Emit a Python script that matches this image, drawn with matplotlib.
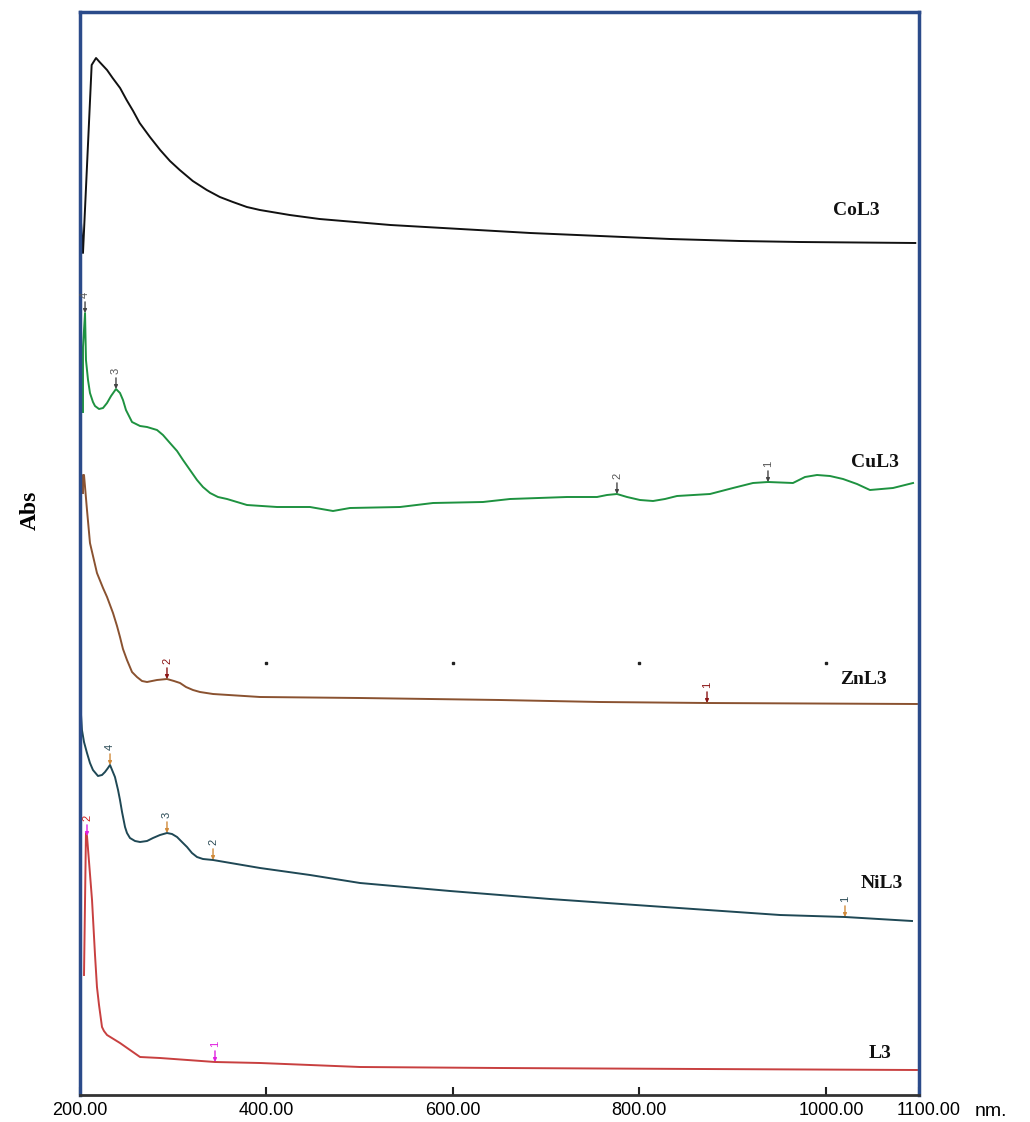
import matplotlib
matplotlib.use("Agg")
import matplotlib.pyplot as plt

SERIF = ["Liberation Serif", "DejaVu Serif"]
SANS = ["Liberation Sans", "DejaVu Sans"]

# wavelength (nm) and stacked absorbance for each spectrum
col3_nm = [200, 203.2, 212.5, 217.2, 221, 229, 235, 243, 250, 257, 264, 275, 286, 296.5, 307,
           321, 336, 350, 364, 379, 393, 425, 457, 495, 533, 608, 683, 758, 833, 908, 972, 1096]
col3_abs = [0.888, 0.842, 1.030, 1.037, 1.033, 1.025, 1.017, 1.007, 0.995, 0.984, 0.972, 0.958,
            0.945, 0.934, 0.925, 0.914, 0.905, 0.898, 0.893, 0.888, 0.885, 0.880, 0.876, 0.873,
            0.870, 0.866, 0.862, 0.859, 0.856, 0.854, 0.853, 0.852]

cul3_nm = [203.2, 203.2, 205.4, 206.4, 208.6, 210.7, 213.9, 216.1, 220.4, 224.7, 229.0, 233.3,
           238.6, 242.9, 246.1, 249.3, 255.8, 264.4, 271.9, 282.6, 289.0, 296.5, 304.1, 310.5,
           318.0, 325.5, 331.9, 339.5, 348.0, 357.7, 379.1, 411.3, 446.7, 471.4, 489.6, 543.3,
           578.7, 632.3, 661.3, 722.4, 754.6, 765.3, 776.0, 786.8, 800.7, 814.7, 827.5, 840.4,
           875.8, 900.5, 921.9, 938.0, 964.8, 977.7, 990.6, 1004.5, 1018.5, 1033.5, 1047.4,
           1072.1, 1093.6]
cul3_abs = [0.683, 0.748, 0.782, 0.735, 0.715, 0.702, 0.693, 0.689, 0.686, 0.687, 0.692, 0.699,
            0.706, 0.702, 0.695, 0.685, 0.673, 0.669, 0.668, 0.665, 0.660, 0.652, 0.644, 0.635,
            0.625, 0.615, 0.608, 0.602, 0.598, 0.596, 0.590, 0.588, 0.588, 0.584, 0.587, 0.588,
            0.592, 0.593, 0.596, 0.598, 0.598, 0.600, 0.601, 0.598, 0.595, 0.594, 0.596, 0.599,
            0.601, 0.607, 0.612, 0.613, 0.612, 0.618, 0.620, 0.619, 0.616, 0.611, 0.605,
            0.607, 0.612]

znl3_nm = [203.2, 203.2, 204.3, 207.5, 210.7, 218.2, 224.7, 229.0, 235.4, 239.7, 242.9, 246.1,
           250.4, 255.8, 261.1, 266.5, 271.9, 282.6, 293.3, 300.8, 307.3, 313.7, 321.2, 328.7,
           342.7, 393.1, 500.4, 650.5, 757.8, 872.6, 1097.8]
znl3_abs = [0.602, 0.620, 0.620, 0.585, 0.552, 0.522, 0.507, 0.498, 0.482, 0.469, 0.458, 0.446,
            0.435, 0.423, 0.418, 0.414, 0.413, 0.415, 0.416, 0.414, 0.412, 0.408, 0.405, 0.403,
            0.401, 0.398, 0.397, 0.395, 0.393, 0.392, 0.391]

nil3_nm = [201.1, 202.1, 204.3, 207.5, 210.7, 213.9, 219.3, 223.6, 226.8, 230.0, 232.2, 237.5,
           240.8, 242.9, 245.1, 248.3, 250.4, 253.6, 259.0, 264.4, 271.9, 278.3, 285.8, 293.3,
           298.7, 304.1, 309.4, 314.8, 320.1, 325.5, 331.9, 342.7, 393.1, 446.7, 500.4, 596.9,
           704.2, 811.4, 950.9, 1020.6, 1092.5]
nil3_abs = [0.380, 0.365, 0.353, 0.342, 0.332, 0.325, 0.319, 0.320, 0.323, 0.327, 0.330, 0.318,
            0.305, 0.295, 0.283, 0.268, 0.262, 0.257, 0.254, 0.253, 0.254, 0.257, 0.260, 0.262,
            0.261, 0.258, 0.253, 0.248, 0.242, 0.238, 0.236, 0.235, 0.227, 0.220, 0.212, 0.204,
            0.196, 0.189, 0.180, 0.178, 0.174]

l3_nm = [204.3, 206.4, 207.5, 212.9, 216.1, 218.2, 220.4, 223.6, 225.7, 229.0, 242.9, 264.4,
         285.8, 344.8, 393.1, 500.4, 650.5, 865.1, 1097.8]
l3_abs = [0.120, 0.262, 0.259, 0.195, 0.140, 0.108, 0.090, 0.068, 0.064, 0.060, 0.052, 0.038,
          0.037, 0.033, 0.032, 0.028, 0.027, 0.026, 0.025]

names = ["CoL3", "CuL3", "ZnL3", "NiL3", "L3"]
colors = ["#111111", "#1e9240", "#8a5230", "#1f4855", "#c84040"]
name_pos = [(1033, 0.884), (1053, 0.632), (1040, 0.416), (1060, 0.212), (1058, 0.042)]

# peak picks: (nm, abs, label)
cul3_peaks = [(205.4, 0.782, "4"), (238.6, 0.706, "3"), (776.0, 0.601, "2"), (938.0, 0.613, "1")]
znl3_peaks = [(293.3, 0.416, "2"), (872.6, 0.392, "1")]
nil3_peaks = [(232.2, 0.330, "4"), (293.3, 0.262, "3"), (342.7, 0.235, "2"), (1020.6, 0.178, "1")]
l3_peaks = [(207.5, 0.259, "2"), (344.8, 0.033, "1")]

xticks = [200, 400, 600, 800, 1000, 1100]
xtick_labels = ["200.00", "400.00", "600.00", "800.00", "1000.00", "1100.00"]

grid_dots_nm = [400, 600, 800, 1000]
grid_dots_abs = [0.432, 0.432, 0.432, 0.432]


def peak_marks(ax, peaks, text_color, arrow_color):
    for x, y, lab in peaks:
        ax.annotate(lab, xy=(x, y), xytext=(0, 11), textcoords="offset points",
                    ha="center", va="bottom", rotation=90, fontsize=8, color=text_color,
                    family=SANS,
                    arrowprops=dict(arrowstyle="-|>", color=arrow_color, lw=1.0,
                                    mutation_scale=5, shrinkA=1, shrinkB=0))


fig = plt.figure(figsize=(10.3, 11.22), dpi=100)
ax = fig.add_axes([80 / 1030, 1 - 1095 / 1122, 839 / 1030, 1083 / 1122])

series = [(col3_nm, col3_abs), (cul3_nm, cul3_abs), (znl3_nm, znl3_abs),
          (nil3_nm, nil3_abs), (l3_nm, l3_abs)]
for (x, y), c in zip(series, colors):
    ax.plot(x, y, color=c, lw=1.4, solid_joinstyle="round")

for name, (x, y) in zip(names, name_pos):
    ax.text(x, y, name, ha="center", va="center", fontsize=14, fontweight="bold",
            family=SERIF, color="#111111")

peak_marks(ax, cul3_peaks, "#555555", "#444444")
peak_marks(ax, znl3_peaks, "#8b1515", "#8b1515")
peak_marks(ax, nil3_peaks, "#2a4a55", "#d08a3a")
peak_marks(ax, l3_peaks[:1], "#d02020", "#e020e0")
peak_marks(ax, l3_peaks[1:], "#e020e0", "#e020e0")

ax.plot(grid_dots_nm, grid_dots_abs, ls="none", marker="s", ms=1.5, color="#222222")

ax.set_xlim(200, 1100)
ax.set_ylim(0, 1.083)
ax.set_yticks([])
ax.set_xticks(xticks)
ax.set_xticklabels([])
ax.tick_params(axis="x", direction="in", length=6, width=1.5, color="#222222")

# last two labels are nudged right in the original
label_shift = [0, 0, 0, 0, 4, 7]
for x, lab, dx in zip(xticks, xtick_labels, label_shift):
    ax.annotate(lab, xy=(x, 0), xycoords=("data", "axes fraction"), xytext=(dx, -5),
                textcoords="offset points", ha="center", va="top", fontsize=13, family=SANS)
fig.text(975 / 1030, 1 - 1112 / 1122, "nm.", ha="left", va="center", fontsize=14, family=SANS)
fig.text(30 / 1030, 1 - 510 / 1122, "Abs", rotation=90, ha="center", va="center",
         fontsize=17, fontweight="bold", family=SERIF)

for side in ["left", "right", "top"]:
    ax.spines[side].set_color("#2b4b8a")
    ax.spines[side].set_linewidth(2.5)
ax.spines["bottom"].set_color("#333333")
ax.spines["bottom"].set_linewidth(2)

fig.savefig("out.png", dpi=100)
